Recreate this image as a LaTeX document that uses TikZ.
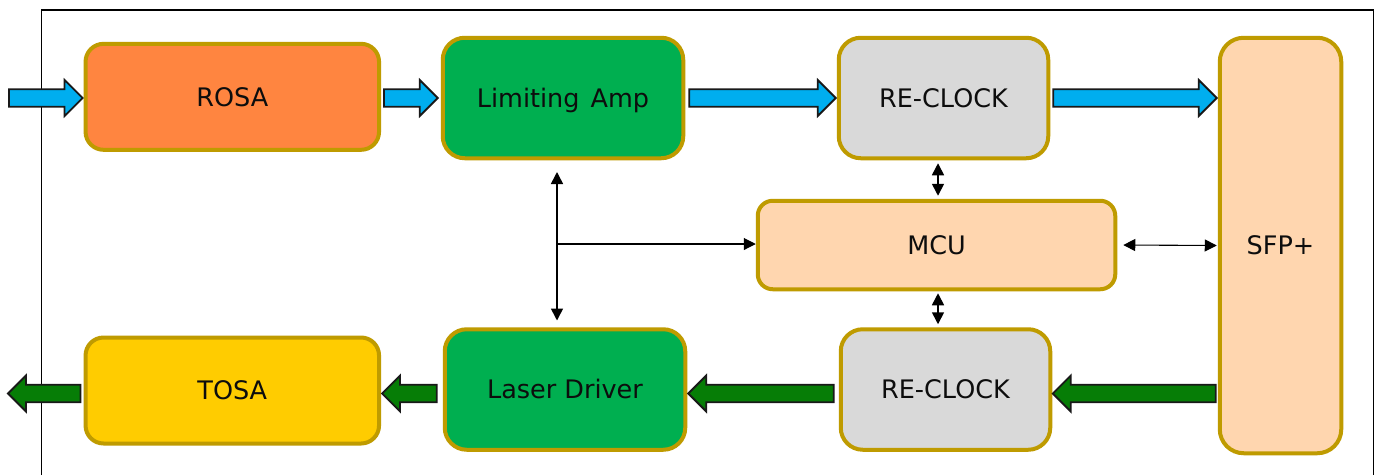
\documentclass[tikz,border=0pt]{standalone}
\usepackage{fontspec}
\setmainfont{DejaVu Sans}
\usetikzlibrary{calc,arrows.meta}
\definecolor{edgegold}{HTML}{BF9B00}
\definecolor{rosaor}{HTML}{FF8540}
\definecolor{ampgreen}{HTML}{00AF50}
\definecolor{clockgray}{HTML}{D9D9D9}
\definecolor{peach}{HTML}{FFD6AF}
\definecolor{tosay}{HTML}{FFCC00}
\definecolor{flowblue}{HTML}{00AEEF}
\definecolor{flowgreen}{HTML}{067D06}
\tikzset{
  x=1pt,y=-1pt,
  block/.style={draw=edgegold,line width=4pt,rounded corners=18pt,font=\fontsize{25.5}{30}\selectfont,text=black!95,inner sep=0pt,text height=18.6pt,text depth=0pt},
  sig/.style={draw=black,line width=1.6pt,{Stealth[length=12pt,width=12pt,inset=0pt]}-{Stealth[length=12pt,width=12pt,inset=0pt]}},
  thinsig/.style={draw=black,line width=1.1pt,{Stealth[length=12pt,width=12pt,inset=0pt]}-{Stealth[length=12pt,width=12pt,inset=0pt]}},
  thinout/.style={draw=black,line width=1.1pt,-{Stealth[length=12pt,width=12pt,inset=0pt]}},
  fat/.style={draw=black!90,line width=1.8pt,miter limit=10}
}
% #1 fill, #2 tail point, #3 tip point: horizontal block arrow
\newcommand\blockarrow[3]{%
  \path let \p1=#2,\p2=#3 in
    coordinate (t) at (\x1,\y1) coordinate (h) at (\x2,\y1);
  \draw[fat,fill=#1] let \p1=(t),\p2=(h),\n1={ifthenelse(\x2>\x1,1,-1)} in
    (\x1,\y1+8.7pt) -- (\x2-\n1*18pt,\y1+8.7pt) -- (\x2-\n1*18pt,\y1+18pt) -- (\x2,\y1)
    -- (\x2-\n1*18pt,\y1-18pt) -- (\x2-\n1*18pt,\y1-8.7pt) -- (\x1,\y1-8.7pt) -- cycle;
}
\begin{document}
\begin{tikzpicture}
\useasboundingbox (0,0) rectangle (1381,475);
\fill[white] (0,0) rectangle (1381,475);
\draw[black,line width=1.6pt] (41.5,475) -- (41.5,9.7) -- (1373.5,9.7) -- (1373.5,475);
\node[block,fill=rosaor,minimum width=293.5pt,minimum height=106pt] (rosa) at (232.3,96.8) {ROSA};
\node[block,fill=ampgreen,minimum width=240.5pt,minimum height=120.5pt,rounded corners=22pt] (amp) at (563,98) {Limiting\hspace{3pt} Amp};
\node[block,fill=clockgray,minimum width=209.5pt,minimum height=120.5pt,rounded corners=22pt] (clk1) at (943.5,98) {RE-CLOCK};
\node[block,fill=peach,minimum width=121.5pt,minimum height=415.5pt,rounded corners=24pt] (sfp) at (1280.5,245.5) {SFP+};
\node[block,fill=peach,minimum width=357.5pt,minimum height=88.5pt,rounded corners=15pt] (mcu) at (936.5,245) {MCU};
\node[block,fill=clockgray,minimum width=209.5pt,minimum height=120.5pt,rounded corners=22pt] (clk2) at (945.5,389.5) {RE-CLOCK};
\node[block,fill=ampgreen,minimum width=240.5pt,minimum height=120.5pt,rounded corners=22pt] (drv) at (565,389.5) {Laser Driver};
\node[block,fill=tosay,minimum width=293.5pt,minimum height=106pt] (tosa) at (232.3,390.5) {TOSA};
\coordinate (inR) at (9,98);
\coordinate (outT) at (8,393);
\coordinate (hub) at (557,244);
\coordinate (hubT) at (557,172);
\coordinate (hubB) at (557,320.5);
\blockarrow{flowblue}{(inR)}{($(rosa.west)+(-1,1.2)$)}
\blockarrow{flowblue}{($(rosa.east)+(3,1.2)$)}{($(amp.west)+(-3,0)$)}
\blockarrow{flowblue}{($(amp.east)+(4,0)$)}{($(clk1.west)+(-1,0)$)}
\blockarrow{flowblue}{($(clk1.east)+(3,0)$)}{($(sfp.west)+(-1,-147.5)$)}
\blockarrow{flowgreen}{($(sfp.west)+(-2,148)$)}{($(clk2.east)+(0.5,4)$)}
\blockarrow{flowgreen}{($(clk2.west)+(-5,4)$)}{($(drv.east)+(1,4)$)}
\blockarrow{flowgreen}{($(drv.west)+(-6,4)$)}{($(tosa.east)+(1,3)$)}
\blockarrow{flowgreen}{($(tosa.west)+(-3,3)$)}{(outT)}
\draw[sig] (hubT) -- (hubB);
\draw[thinout] (hub) -- (hub -| mcu.west);
\draw[sig] ($(clk1.south)+(-5.5,3)$) -- ($(mcu.north)+(1.5,-3)$);
\draw[sig] ($(mcu.south)+(1.5,2)$) -- ($(clk2.north)+(-7.5,-3)$);
\draw[thinsig] ($(mcu.east)+(6,0)$) -- ($(sfp.west)+(-1,0)$);
\end{tikzpicture}
\end{document}
